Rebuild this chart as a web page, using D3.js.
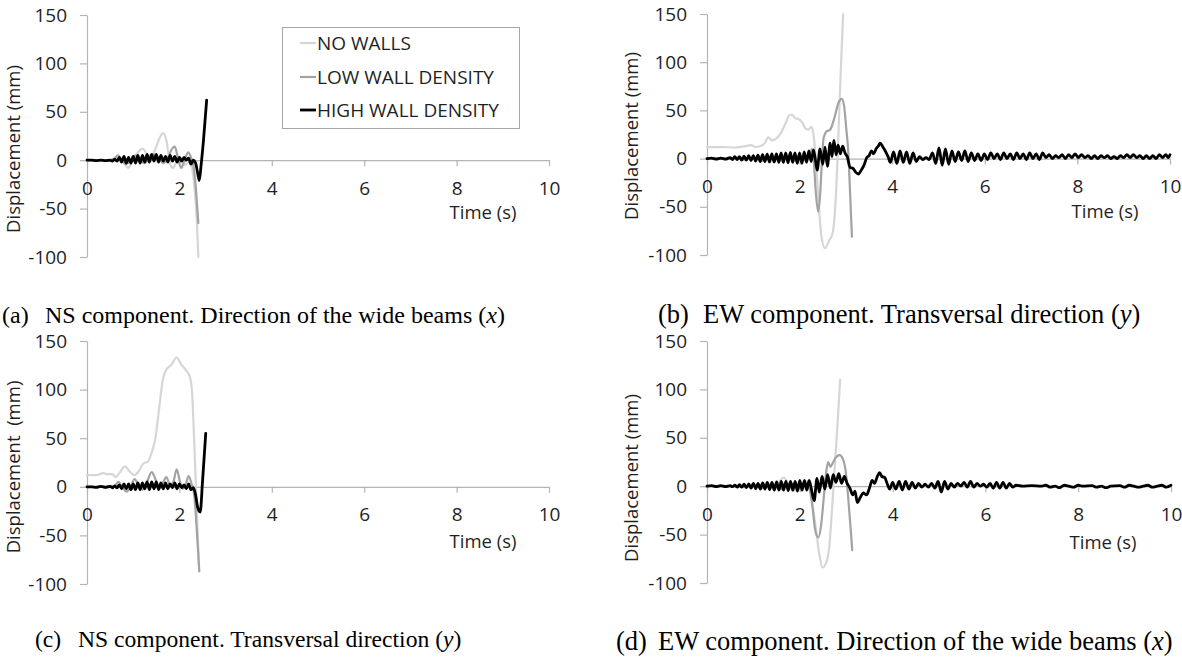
<!DOCTYPE html>
<html>
<head>
<meta charset="utf-8">
<script src="https://cdn.jsdelivr.net/npm/d3@7"></script>
<style>
  body { margin: 0; background: #fff; }
  svg { display: block; }
</style>
</head>
<body>
<svg id="fig" width="1182" height="658"></svg>
<script>
// Series and tick labels
const seriesNames = ["NO WALLS", "LOW WALL DENSITY", "HIGH WALL DENSITY"];
const timeTicks = [0, 2, 4, 6, 8, 10];
const dispTicks = [-100, -50, 0, 50, 100, 150];

// Displacement histories, [time (s), displacement (mm)]
// (a) NS component, x direction
const nsX_noWalls = [[0,0],[0.3,0],[0.5,0],[0.6,-1],[0.7,2],[0.8,-3],[0.89,-8],[0.98,-2],[1.1,8],[1.21,12],[1.3,6],[1.4,5],[1.5,14],[1.58,24],[1.65,28],[1.72,20],[1.8,-4],[1.86,-8],[1.93,-2],[2.0,4],[2.06,0],[2.12,-5],[2.2,-2],[2.27,-8],[2.33,-30],[2.38,-65],[2.41,-100]];
const nsX_low = [[0,0],[0.3,0],[0.5,0],[0.6,2],[0.67,5],[0.75,0],[0.85,-4],[0.95,0],[1.05,5],[1.15,0],[1.25,-3],[1.35,2],[1.45,6],[1.55,2],[1.65,-3],[1.75,2],[1.82,10],[1.9,14],[1.97,2],[2.04,-8],[2.1,-2],[2.19,8],[2.25,3],[2.3,-5],[2.35,-25],[2.38,-45],[2.41,-65]];
const nsX_high = [[0,0],[0.1,0],[0.2,-0.5],[0.3,0],[0.4,-0.5],[0.5,0],[0.55,-1],[0.6,1],[0.65,-1],[0.7,3],[0.75,-2],[0.8,4],[0.85,-3],[0.9,3],[0.95,-3],[1.0,4],[1.05,-3],[1.1,5],[1.15,-3],[1.2,5],[1.25,-2],[1.3,6],[1.35,-2],[1.4,6],[1.45,-1],[1.5,6],[1.55,-2],[1.6,5],[1.65,-1],[1.7,4],[1.75,-2],[1.8,5],[1.85,-1],[1.9,4],[1.95,-2],[2.0,3],[2.05,-1],[2.1,3],[2.15,0],[2.2,2],[2.25,-4],[2.3,0],[2.35,-3],[2.39,-12],[2.43,-21],[2.47,-5],[2.52,20],[2.59,62]];

// (b) EW component, y direction
const ewY_noWalls = [[0,12],[0.3,12],[0.6,11.5],[0.85,13],[0.95,14],[1.05,12],[1.15,13],[1.25,16],[1.32,22],[1.4,19],[1.5,21],[1.6,27],[1.7,37],[1.78,45],[1.84,45.5],[1.9,42],[1.98,41],[2.06,37],[2.13,31],[2.19,30],[2.25,33],[2.3,25],[2.35,0],[2.41,-45],[2.47,-80],[2.55,-93],[2.63,-86],[2.72,-76],[2.77,-50],[2.82,0],[2.88,80],[2.94,150]];
const ewY_low = [[0,0],[0.5,0],[0.6,1],[0.8,-1],[1.0,1],[1.2,-2],[1.4,2],[1.6,-2],[1.8,3],[1.9,-2],[2.0,3],[2.1,-1],[2.17,2],[2.22,5],[2.27,10],[2.31,-5],[2.35,-35],[2.40,-55],[2.44,-40],[2.48,-5],[2.52,22],[2.58,28],[2.66,30],[2.75,42],[2.84,58],[2.91,62],[2.96,55],[3.01,30],[3.05,8],[3.09,-35],[3.13,-81]];
const ewY_high = [[0,0],[0.1,0.5],[0.2,-0.5],[0.3,0.5],[0.4,-0.5],[0.5,1],
  [0.55,-1],[0.6,2],[0.65,-1],[0.7,2],[0.75,-1.5],[0.8,2.5],[0.85,-1.5],[0.9,3],[0.95,-2],[1.0,3],
  [1.05,-2.5],[1.1,3.5],[1.15,-3],[1.2,4],[1.25,-3],[1.3,4.5],[1.35,-3.5],[1.4,5],[1.45,-3.5],[1.5,5],
  [1.55,-4],[1.6,6],[1.65,-4],[1.7,6],[1.75,-4.5],[1.8,6.5],[1.85,-4],[1.9,6],[1.95,-5],[2.0,6],[2.05,-5],[2.1,7],[2.15,-4],[2.2,8],[2.25,-3],[2.3,9],
  [2.35,-4],[2.38,-12],[2.44,10],[2.5,-6],[2.55,12],[2.6,-8],[2.66,16],[2.7,2],[2.74,19],[2.79,4],[2.83,14],[2.88,5],[2.93,13],[2.98,6],[3.03,2],[3.09,-9],[3.15,-10],[3.21,-14],[3.27,-16],[3.33,-12],[3.39,-7],[3.45,1],[3.5,3],[3.55,8],[3.6,5],[3.65,10],[3.7,13],[3.74,16],[3.8,12],[3.86,7],[3.91,2],[3.96,-4],
  [4.03,7],[4.1,-5],[4.17,8],[4.24,-4],[4.31,7],[4.38,-5],[4.45,6],[4.52,-3],
  [4.59,2],[4.66,-1],[4.73,1],[4.8,-1],
  [4.87,6],[4.94,-5],[5.01,11],[5.08,-7],[5.15,10],[5.22,-6],
  [5.29,8],[5.36,-3],[5.43,7],[5.5,-2],[5.57,8],[5.64,-3],[5.71,6],[5.78,-2],[5.85,5],
  [5.92,-2],[5.99,5],[6.06,-1],[6.13,6],[6.2,0],[6.27,5],[6.34,-1],[6.41,6],[6.48,0],[6.55,5],[6.62,-1],[6.69,6],[6.76,0],[6.83,5],[6.9,-1],[6.97,6],[7.04,0],[7.11,5],[7.18,-1],[7.25,6],[7.32,1],[7.39,4],[7.46,0],[7.53,3],[7.6,1],[7.67,4],[7.74,0],
  [7.81,4],[7.88,1],[7.95,5],[8.02,1],[8.09,4],[8.16,1],[8.23,3],[8.3,0],[8.37,3],[8.44,0],[8.51,3],[8.58,1],[8.65,3],[8.72,0],[8.79,2],[8.86,0],[8.93,3],[9.0,1],[9.07,4],[9.14,1],[9.21,4],[9.28,1],[9.35,3],[9.42,0],[9.49,3],[9.56,0],[9.63,3],[9.7,0],[9.77,4],[9.84,1],[9.91,4],[9.96,1],[10,4]];

// (c) NS component, y direction
const nsY_noWalls = [[0,12],[0.2,12],[0.35,14],[0.45,13],[0.55,13],[0.62,10],[0.7,14],[0.82,21],[0.92,16],[1.02,12],[1.12,16],[1.22,24],[1.32,26],[1.4,35],[1.48,50],[1.56,80],[1.64,110],[1.72,121],[1.82,125],[1.94,133],[2.04,126],[2.14,120],[2.22,114],[2.27,100],[2.31,60],[2.35,10],[2.39,-40],[2.42,-80]];
const nsY_low = [[0,0],[0.3,0],[0.5,0.5],[0.6,1],[0.68,5],[0.76,0],[0.86,-5],[0.95,1],[1.03,8],[1.12,1],[1.2,-3],[1.3,5],[1.4,15],[1.48,8],[1.56,-2],[1.64,4],[1.72,10],[1.8,1],[1.87,5],[1.94,18],[2.02,4],[2.08,-2],[2.14,3],[2.2,11],[2.27,2],[2.32,-8],[2.37,-40],[2.41,-70],[2.43,-87]];
const nsY_high = [[0,0],[0.1,0],[0.2,-0.5],[0.3,0.5],[0.4,-0.5],[0.5,0.5],[0.55,-1],[0.6,1],[0.65,-1],[0.7,2],[0.75,-2],[0.8,3],[0.85,-2],[0.9,3],[0.95,-3],[1.0,3],[1.05,-3],[1.1,4],[1.15,-3],[1.2,4],[1.25,-2],[1.3,5],[1.35,-3],[1.4,5],[1.45,-2],[1.5,5],[1.55,-3],[1.6,4],[1.65,-2],[1.7,4],[1.75,-2],[1.8,3],[1.85,-1],[1.9,4],[1.95,-2],[2.0,3],[2.05,-1],[2.1,2],[2.15,-2],[2.2,3],[2.25,-3],[2.3,-1],[2.34,-6],[2.4,-22],[2.45,-26],[2.5,5],[2.57,55]];

// (d) EW component, x direction
const ewX_noWalls = [[0,0],[0.5,0],[0.8,1],[1.0,-1],[1.2,2],[1.4,-2],[1.55,4],[1.65,9],[1.75,3],[1.85,-5],[1.95,-3],[2.05,2],[2.15,5],[2.22,0],[2.28,-20],[2.35,-45],[2.42,-70],[2.49,-84],[2.56,-80],[2.63,-65],[2.7,-20],[2.76,25],[2.82,70],[2.87,110]];
const ewX_low = [[0,0],[0.5,0],[0.8,-1],[1.0,1],[1.2,-2],[1.4,2],[1.6,-3],[1.8,3],[1.95,-3],[2.1,4],[2.2,-2],[2.27,-20],[2.33,-45],[2.40,-53],[2.46,-40],[2.52,-10],[2.57,15],[2.61,25],[2.66,20],[2.71,24],[2.78,30],[2.86,32],[2.93,28],[2.99,15],[3.04,-10],[3.09,-40],[3.13,-66]];
const ewX_high = [[0,0],[0.1,0.5],[0.2,-0.5],[0.3,0.5],[0.4,-0.5],[0.5,0.5],[0.55,-0.5],[0.6,1],[0.65,-1],[0.7,1.5],[0.75,-1],[0.8,2],[0.85,-1.5],[0.9,2.5],[0.95,-2],[1.0,3],[1.05,-2.5],[1.1,3],[1.15,-3],[1.2,3.5],[1.25,-3],[1.3,4],[1.35,-3.5],[1.4,4],[1.45,-4],[1.5,4.5],[1.55,-4],[1.6,5],[1.65,-4],[1.7,5],[1.75,-4.5],[1.8,5],[1.85,-4],[1.9,5],[1.95,-5],[2.0,6],[2.05,-4],[2.1,6],[2.15,-4],[2.2,6],[2.25,-3],
  [2.31,-15],[2.37,8],[2.42,-6],[2.48,10],[2.54,-3],[2.6,12],[2.66,-2],[2.72,12],[2.78,4],[2.84,13],[2.9,3],[2.96,10],[3.02,3],[3.08,-2],[3.14,-9],[3.19,-5],[3.24,-17],[3.3,-12],[3.37,-7],[3.44,-9],[3.5,-2],[3.56,6],[3.61,3],[3.67,10],[3.72,14],[3.77,10],[3.83,9],[3.88,3],[3.94,-3],
  [4.0,4],[4.07,-3],[4.14,5],[4.21,-4],[4.28,5],[4.35,-3],[4.42,4],[4.49,-2],[4.56,3],[4.63,-1],[4.7,2],[4.77,-1],[4.84,3],[4.91,-2],[4.98,5],[5.05,-6],[5.12,5],[5.19,-3],[5.26,3],[5.33,-1],[5.4,3],[5.47,0],[5.54,4],[5.61,-1],[5.68,5],[5.75,-1],[5.82,3],[5.89,0],[5.96,2],[6.03,-1],[6.1,3],[6.17,-2],[6.24,4],[6.31,-2],[6.38,4],[6.45,-2],[6.52,3],[6.59,-1],[6.66,1],
  [6.8,0],[7.0,0.5],[7.2,0],[7.3,1],[7.4,-1],[7.5,0],[7.6,-1.5],[7.7,1],[7.8,0],[7.9,-1],[8.0,1],[8.1,0],[8.3,0.5],[8.4,-1],[8.5,0],[8.6,-1.5],[8.7,0],[8.9,0.5],[9.0,-1],[9.1,1],[9.2,0],[9.3,-1],[9.4,0],[9.5,1],[9.6,-1],[9.7,0],[9.8,1],[9.9,-1],[10,1]];

// Line styles per series
const seriesColors = ["#d6d6d6", "#a3a3a3", "#000000"];
const seriesWidths = [2.2, 2.2, 2.8];

// Panel layout
const panels = [
  { series: [nsX_noWalls, nsX_low, nsX_high], x0: 87, x1: 549, yTop: 15, yBot: 257,
    yTitle: "Displacement (mm)", yTitleX: 20, yTitleY: 149, tX: 483, tY: 219,
    tag: "(a)", caption: ["NS component. Direction of the wide beams (", "x", ")"],
    capX: 2, capTextX: 45, capY: 323, capSize: 24, legend: true },
  { series: [ewY_noWalls, ewY_low, ewY_high], x0: 707, x1: 1170, yTop: 14, yBot: 255,
    yTitle: "Displacement (mm)", yTitleX: 638, yTitleY: 136, tX: 1105, tY: 218,
    tag: "(b)", caption: ["EW component. Transversal direction (", "y", ")"],
    capX: 658, capTextX: 703, capY: 323, capSize: 26.5 },
  { series: [nsY_noWalls, nsY_low, nsY_high], x0: 87, x1: 549, yTop: 341, yBot: 584,
    yTitle: "Displacement  (mm)", yTitleX: 20, yTitleY: 467, tX: 483, tY: 548,
    tag: "(c)", caption: ["NS component. Transversal direction (", "y", ")"],
    capX: 35, capTextX: 78, capY: 647, capSize: 23.6 },
  { series: [ewX_noWalls, ewX_low, ewX_high], x0: 707, x1: 1171, yTop: 341, yBot: 583,
    yTitle: "Displacement (mm)", yTitleX: 638, yTitleY: 478, tX: 1103, tY: 549,
    tag: "(d)", caption: ["EW component. Direction of the wide beams (", "x", ")"],
    capX: 616, capTextX: 658, capY: 650, capSize: 26.5 }
];

const svg = d3.select("#fig");
svg.append("rect").attr("width", 1182).attr("height", 658).attr("fill", "#fff");

const axisColor = "#b4b4b4";
const textColor = "#1f1f1f";
const sansFont = "'Open Sans', sans-serif";
const serifFont = "'Liberation Serif', 'Times New Roman', serif";
const plainNumber = d => String(d);

function styleAxis(g) {
  g.attr("font-family", sansFont).attr("font-size", 19);
  g.selectAll(".domain").attr("stroke", axisColor).attr("stroke-width", 1.2);
  g.selectAll(".tick line").attr("stroke", axisColor).attr("stroke-width", 1.2);
  g.selectAll(".tick text").attr("fill", textColor);
}

panels.forEach(p => {
  const x = d3.scaleLinear().domain([0, 10]).range([p.x0, p.x1]);
  const y = d3.scaleLinear().domain([-100, 150]).range([p.yBot, p.yTop]);
  const g = svg.append("g");

  g.append("g")
    .attr("transform", `translate(${p.x0},0)`)
    .call(d3.axisLeft(y).tickValues(dispTicks).tickFormat(plainNumber)
      .tickSize(7).tickSizeOuter(0).tickPadding(13))
    .call(styleAxis);

  g.append("g")
    .attr("transform", `translate(0,${y(0)})`)
    .call(d3.axisBottom(x).tickValues(timeTicks).tickFormat(plainNumber)
      .tickSize(6).tickSizeOuter(0).tickPadding(15))
    .call(styleAxis);

  const line = d3.line().x(d => x(d[0])).y(d => y(d[1])).curve(d3.curveMonotoneX);
  p.series.forEach((s, i) => {
    g.append("path").datum(s)
      .attr("d", line)
      .attr("fill", "none")
      .attr("stroke", seriesColors[i])
      .attr("stroke-width", seriesWidths[i])
      .attr("stroke-linejoin", "round")
      .attr("stroke-linecap", "round");
  });

  g.append("text")
    .attr("transform", `translate(${p.yTitleX},${p.yTitleY}) rotate(-90)`)
    .attr("text-anchor", "middle")
    .attr("font-family", sansFont).attr("font-size", 18.5)
    .attr("fill", textColor)
    .style("white-space", "pre")
    .text(p.yTitle);

  g.append("text")
    .attr("x", p.tX).attr("y", p.tY)
    .attr("text-anchor", "middle")
    .attr("font-family", sansFont).attr("font-size", 18.5)
    .attr("fill", textColor)
    .text("Time (s)");

  const cap = svg.append("text")
    .attr("y", p.capY)
    .attr("font-family", serifFont).attr("font-size", p.capSize)
    .attr("fill", "#000");
  cap.append("tspan").attr("x", p.capX).text(p.tag);
  cap.append("tspan").attr("x", p.capTextX).text(p.caption[0]);
  cap.append("tspan").attr("font-style", "italic").text(p.caption[1]);
  cap.append("tspan").text(p.caption[2]);

  if (p.legend) {
    const lg = svg.append("g");
    lg.append("rect")
      .attr("x", 282.5).attr("y", 27.5).attr("width", 237).attr("height", 101)
      .attr("fill", "#fff").attr("stroke", "#a6a6a6").attr("stroke-width", 1);
    const rowY = [43, 77, 110];
    seriesNames.forEach((name, i) => {
      lg.append("line")
        .attr("x1", 300).attr("x2", 316).attr("y1", rowY[i]).attr("y2", rowY[i])
        .attr("stroke", seriesColors[i]).attr("stroke-width", seriesWidths[i]);
      lg.append("text")
        .attr("x", 317).attr("y", rowY[i]).attr("dy", "0.36em")
        .attr("font-family", sansFont).attr("font-size", 19)
        .attr("fill", textColor)
        .text(name);
    });
  }
});
</script>
</body>
</html>
